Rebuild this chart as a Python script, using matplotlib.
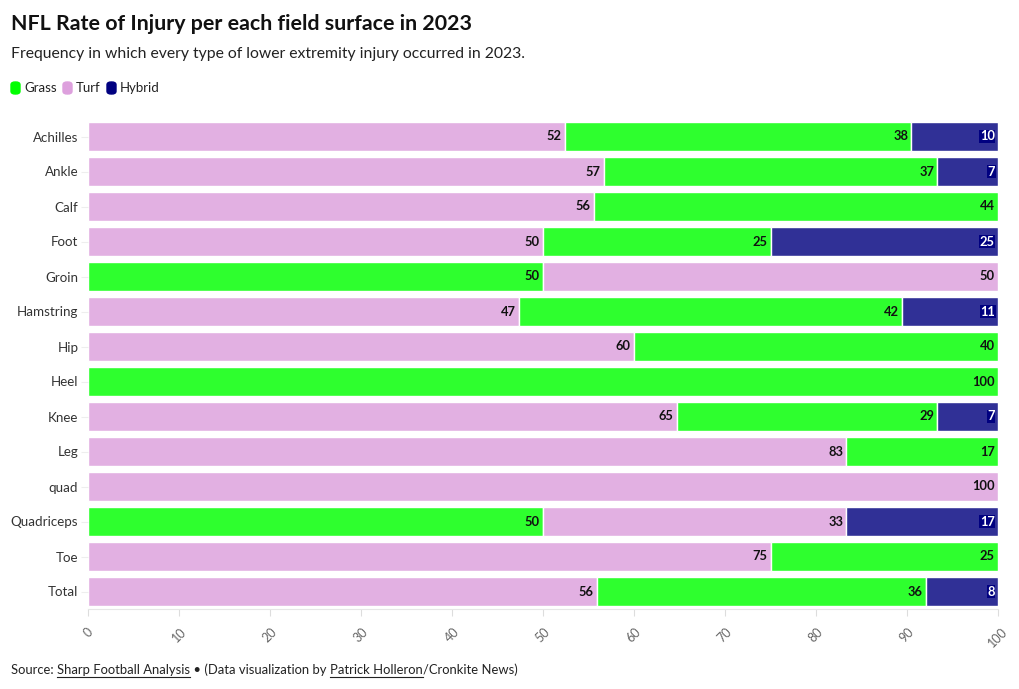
import matplotlib
matplotlib.use("Agg")
import matplotlib.pyplot as plt
import matplotlib.patheffects as pe

plt.rcParams["font.family"] = ["Lato", "DejaVu Sans"]

# data (percent of injuries per surface)
categories = ["Achilles", "Ankle", "Calf", "Foot", "Groin", "Hamstring", "Hip",
              "Heel", "Knee", "Leg", "quad", "Quadriceps", "Toe", "Total"]
grass = [38.10, 36.67, 44.44, 25, 50, 42.11, 40, 100, 28.6, 16.67, 0, 50, 25, 36.2]
turf = [52.38, 56.67, 55.56, 50, 50, 47.37, 60, 0, 64.7, 83.33, 100, 33.33, 75, 55.9]
hybrid = [9.52, 6.67, 0, 25, 0, 10.53, 0, 0, 6.7, 0, 0, 16.67, 0, 7.9]
# order the segments appear in each row (T = turf, G = grass, H = hybrid)
seg_order = ["TGH", "TGH", "TGH", "TGH", "GTH", "TGH", "TGH",
             "GTH", "TGH", "TGH", "TGH", "GTH", "TGH", "TGH"]

colors = {"G": "#2eff2e", "T": "#e2b0e2", "H": "#303096"}
legend_colors = {"Grass": "#00ff00", "Turf": "#dda0dd", "Hybrid": "#000080"}

fig = plt.figure(figsize=(10.2, 6.89), dpi=100)
ax = fig.add_axes([88 / 1020, 1 - 609 / 689, 910 / 1020, 490 / 689])

for i, cat in enumerate(categories):
    vals = {"G": grass[i], "T": turf[i], "H": hybrid[i]}
    left = 0
    for s in seg_order[i]:
        v = vals[s]
        if v <= 0:
            continue
        ax.barh(i, v, left=left, height=0.83, color=colors[s],
                edgecolor="white", linewidth=1)
        end = left + v
        if s == "H":
            ax.text(end - 0.35, i, "%d" % round(v), ha="right", va="center",
                    fontsize=9.3, fontweight="bold", color="white",
                    bbox=dict(boxstyle="square,pad=0.05", fc="#000080", ec="none"))
        else:
            ax.text(end - 0.35, i, "%d" % round(v), ha="right", va="center",
                    fontsize=9.3, fontweight="bold", color="#111111")
        left = end

ax.set_xlim(0, 100)
ax.set_ylim(13.5, -0.5)
ax.set_yticks(range(len(categories)))
ax.set_yticklabels(categories, fontsize=9.6, color="#333333")
ax.set_xticks(range(0, 101, 10))
ax.set_xticklabels([str(t) for t in range(0, 101, 10)], rotation=45,
                   fontsize=9, color="#666666", ha="center", va="top")
ax.tick_params(axis="y", length=5, color="#eeeeee", pad=2)
ax.tick_params(axis="x", length=5, color="#dddddd", pad=7)
for sp in ["top", "right", "left"]:
    ax.spines[sp].set_visible(False)
ax.spines["bottom"].set_color("#e6e6e6")

# header
fig.text(11 / 1020, 1 - 24 / 689, "NFL Rate of Injury per each field surface in 2023",
         fontsize=15.4, fontweight="bold", color="#111111", va="center")
fig.text(11 / 1020, 1 - 54 / 689,
         "Frequency in which every type of lower extremity injury occurred in 2023.",
         fontsize=11.3, color="#222222", va="center")

# legend
lx = 11
for name, txt_w in [("Grass", 52), ("Turf", 44), ("Hybrid", 50)]:
    box = matplotlib.patches.FancyBboxPatch((lx / 1020, 1 - 94 / 689), 9 / 1020, 12 / 689,
                                           boxstyle="round,pad=0,rounding_size=0.004",
                                           transform=fig.transFigure,
                                           color=legend_colors[name])
    fig.patches.append(box)
    fig.text((lx + 13) / 1020, 1 - 88 / 689, name, fontsize=9.5, color="#222222", va="center")
    lx += txt_w

# footer with underlined links
fig.canvas.draw()
r = fig.canvas.get_renderer()
parts = [("Source: ", False), ("Sharp Football Analysis", True),
         (" \u2022 (Data visualization by ", False), ("Patrick Holleron", True),
         ("/Cronkite News)", False)]
x = 11
for txt, ul in parts:
    t = fig.text(x / 1020, 1 - 670 / 689, txt, fontsize=9.4, color="#222222", va="center")
    bb = t.get_window_extent(r)
    if ul:
        fig.add_artist(plt.Line2D([x / 1020, (x + bb.width) / 1020],
                                  [1 - 677 / 689, 1 - 677 / 689],
                                  transform=fig.transFigure, color="#222222", linewidth=0.8))
    x += bb.width

fig.savefig("out.png", dpi=100, facecolor="white")
